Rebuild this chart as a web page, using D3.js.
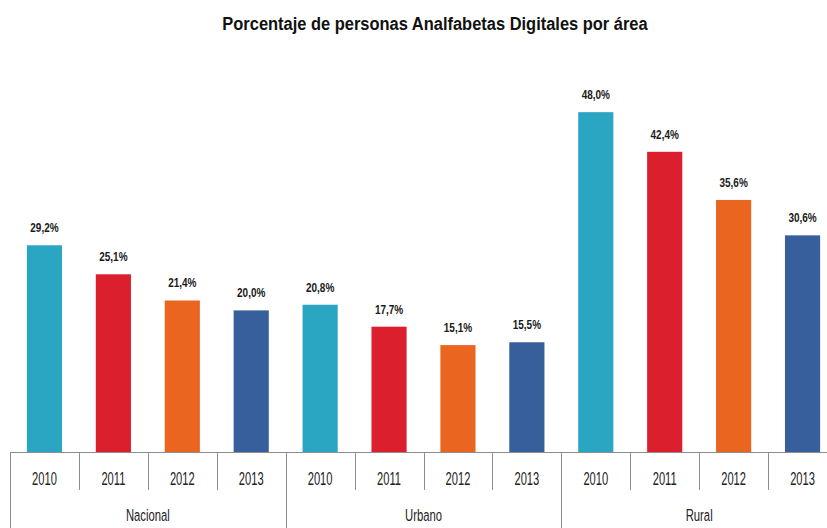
<!DOCTYPE html>
<html>
<head>
<meta charset="utf-8">
<script src="https://cdn.jsdelivr.net/npm/d3@7"></script>
<style>
  html, body { margin: 0; padding: 0; background: #fff; }
  svg { display: block; }
</style>
</head>
<body>
<svg id="chart" width="827" height="528"></svg>
<script>
// Data
const areas = ["Nacional", "Urbano", "Rural"];
const years = ["2010", "2011", "2012", "2013"];
const nacional = [29.2, 25.1, 21.4, 20.0];
const urbano = [20.8, 17.7, 15.1, 15.5];
const rural = [48.0, 42.4, 35.6, 30.6];
const yearColors = ["#2aa6c3", "#dc1f2c", "#ea6520", "#365f9b"];
const titleText = "Porcentaje de personas Analfabetas Digitales por área";

const seriesByArea = { Nacional: nacional, Urbano: urbano, Rural: rural };

const svg = d3.select("#chart");
const W = 827, H = 528;
const left = 10, right = 837, baseY = 452;

const x0 = d3.scaleBand().domain(areas).range([left, right]).padding(0);
const x1 = d3.scaleBand().domain(years).range([0, x0.bandwidth()])
  .paddingInner(0.49).paddingOuter(0.245);
const y = d3.scaleLinear().domain([0, 50]).range([baseY, 98]);
const color = d3.scaleOrdinal().domain(years).range(yearColors);

// Condensed look is obtained by squeezing a regular sans horizontally
const sans = "'Liberation Sans', Arial, sans-serif";

// Title
svg.append("text")
  .attr("transform", "translate(435,30) scale(0.89,1.02)")
  .attr("text-anchor", "middle")
  .style("font-family", sans)
  .style("font-weight", "bold")
  .style("font-size", "18.5px")
  .attr("fill", "#111")
  .text(titleText);

// Bars and value labels
const groups = svg.selectAll("g.area")
  .data(areas).join("g")
  .attr("class", "area")
  .attr("transform", d => `translate(${x0(d)},0)`);

const cells = groups.selectAll("g.cell")
  .data(a => years.map((yr, i) => ({ area: a, year: yr, value: seriesByArea[a][i] })))
  .join("g").attr("class", "cell");

cells.append("rect")
  .attr("x", d => x1(d.year))
  .attr("y", d => y(d.value))
  .attr("width", x1.bandwidth())
  .attr("height", d => baseY - y(d.value))
  .attr("fill", d => color(d.year));

const fmt = v => v.toFixed(1).replace(".", ",") + "%";
cells.append("text")
  .attr("transform", d => `translate(${x1(d.year) + x1.bandwidth() / 2},${y(d.value) - 13}) scale(0.8,1.08)`)
  .attr("text-anchor", "middle")
  .style("font-family", sans)
  .style("font-weight", "bold")
  .style("font-size", "12.5px")
  .attr("fill", "#1a1a1a")
  .text(d => fmt(d.value));

// Category axis drawn as a two-level table
const axis = svg.append("g").attr("stroke", "#8c8c8c").attr("stroke-width", 1);
axis.append("line")
  .attr("x1", left).attr("x2", W).attr("y1", baseY + 0.5).attr("y2", baseY + 0.5);

const step = x1.step();
areas.forEach(a => {
  const gx = x0(a);
  axis.append("line")
    .attr("x1", Math.round(gx) + 0.5).attr("x2", Math.round(gx) + 0.5)
    .attr("y1", baseY).attr("y2", H);
  years.slice(1).forEach((yr, i) => {
    const tx = Math.round(gx + step * (i + 1)) + 0.5;
    axis.append("line")
      .attr("x1", tx).attr("x2", tx)
      .attr("y1", baseY).attr("y2", 490);
  });
});

// Year labels
groups.selectAll("text.year")
  .data(years).join("text")
  .attr("class", "year")
  .attr("transform", d => `translate(${x1(d) + x1.bandwidth() / 2},485) scale(0.93,1.5)`)
  .attr("text-anchor", "middle")
  .style("font-family", sans)
  .style("font-size", "12px")
  .attr("fill", "#222")
  .text(d => d);

// Area labels
groups.append("text")
  .attr("transform", `translate(${x0.bandwidth() / 2},521) scale(0.94,1.4)`)
  .attr("text-anchor", "middle")
  .style("font-family", sans)
  .style("font-size", "12px")
  .attr("fill", "#222")
  .text(d => d);
</script>
</body>
</html>
